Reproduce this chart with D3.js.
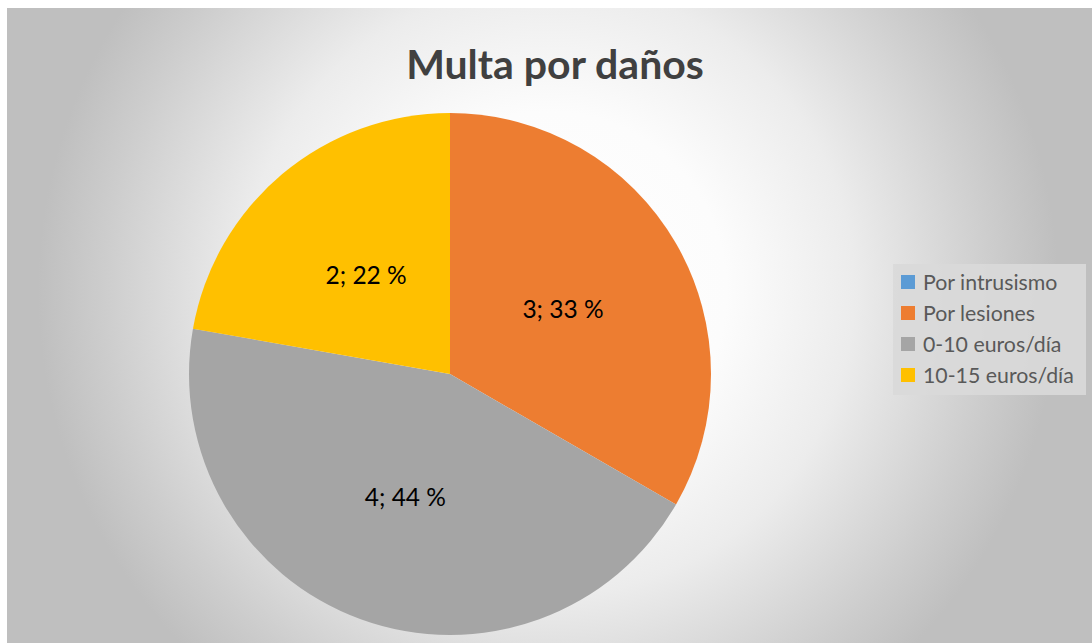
<!DOCTYPE html>
<html>
<head>
<meta charset="utf-8">
<script src="https://cdn.jsdelivr.net/npm/d3@7"></script>
<style>
  body { margin: 0; background: #fff; }
  svg { display: block; }
</style>
</head>
<body>
<div id="main"></div>
<script>
// data
const categories = ['Por intrusismo', 'Por lesiones', '0-10 euros/día', '10-15 euros/día'];
const values = [0, 3, 4, 2];
const colors = ['#5B9BD5', '#ED7D31', '#A5A5A5', '#FFC000'];
const title = 'Multa por daños';

const svgWidth = 1092, svgHeight = 643;
const area = { x: 7, y: 8, w: 1085, h: 635 };
const center = { x: 450, y: 374 };
const radius = 261;

const svg = d3.select('#main')
    .append('svg')
    .attr('width', svgWidth)
    .attr('height', svgHeight);

// radial background like the excel chart area
const grad = svg.append('defs').append('radialGradient')
    .attr('id', 'bg')
    .attr('gradientUnits', 'userSpaceOnUse')
    .attr('cx', 548).attr('cy', 290).attr('r', 510);
[[0, '#ffffff'], [0.35, '#fcfcfc'], [0.6, '#ececec'], [0.87, '#cdcdcd'], [1, '#bfbfbf']]
    .forEach(s => grad.append('stop').attr('offset', s[0]).attr('stop-color', s[1]));

svg.append('rect')
    .attr('x', area.x).attr('y', area.y)
    .attr('width', area.w).attr('height', area.h)
    .attr('fill', 'url(#bg)');

svg.append('text')
    .attr('x', 555)
    .attr('y', 63)
    .attr('text-anchor', 'middle')
    .attr('dominant-baseline', 'central')
    .attr('font-family', 'Lato, sans-serif')
    .attr('font-weight', 'bold')
    .attr('font-size', 41)
    .attr('fill', '#404040')
    .text(title);

const total = d3.sum(values);
const pie = d3.pie().sort(null).value(d => d.value);
const arcs = pie(categories.map((c, i) => ({ name: c, value: values[i], color: colors[i] })));

const arc = d3.arc().innerRadius(0).outerRadius(radius);
const labelArc = d3.arc().innerRadius(radius * 0.5).outerRadius(radius * 0.5);

const g = svg.append('g')
    .attr('transform', `translate(${center.x}, ${center.y})`);

g.selectAll('path')
    .data(arcs)
    .enter()
    .append('path')
    .attr('d', arc)
    .attr('fill', d => d.data.color);

g.selectAll('text')
    .data(arcs.filter(d => d.data.value > 0))
    .enter()
    .append('text')
    .attr('transform', d => `translate(${labelArc.centroid(d)})`)
    .attr('text-anchor', 'middle')
    .attr('dominant-baseline', 'central')
    .attr('font-family', 'Lato, sans-serif')
    .attr('font-size', 24.5)
    .attr('fill', '#000')
    .text(d => `${d.data.value}; ${Math.round(d.data.value / total * 100)} %`);

// legend
const legend = svg.append('g');
legend.append('rect')
    .attr('x', 893).attr('y', 264)
    .attr('width', 193).attr('height', 131)
    .attr('fill', '#d9d9d9')
    .attr('fill-opacity', 0.9);

const item = legend.selectAll('g.item')
    .data(categories)
    .enter()
    .append('g')
    .attr('class', 'item')
    .attr('transform', (d, i) => `translate(901, ${282 + i * 31})`);

item.append('rect')
    .attr('x', 0).attr('y', -7)
    .attr('width', 14).attr('height', 14)
    .attr('fill', (d, i) => colors[i]);

item.append('text')
    .attr('x', 22)
    .attr('y', 0)
    .attr('dominant-baseline', 'central')
    .attr('font-family', 'Lato, sans-serif')
    .attr('font-size', 21.3)
    .attr('fill', '#595959')
    .text(d => d);
</script>
</body>
</html>
